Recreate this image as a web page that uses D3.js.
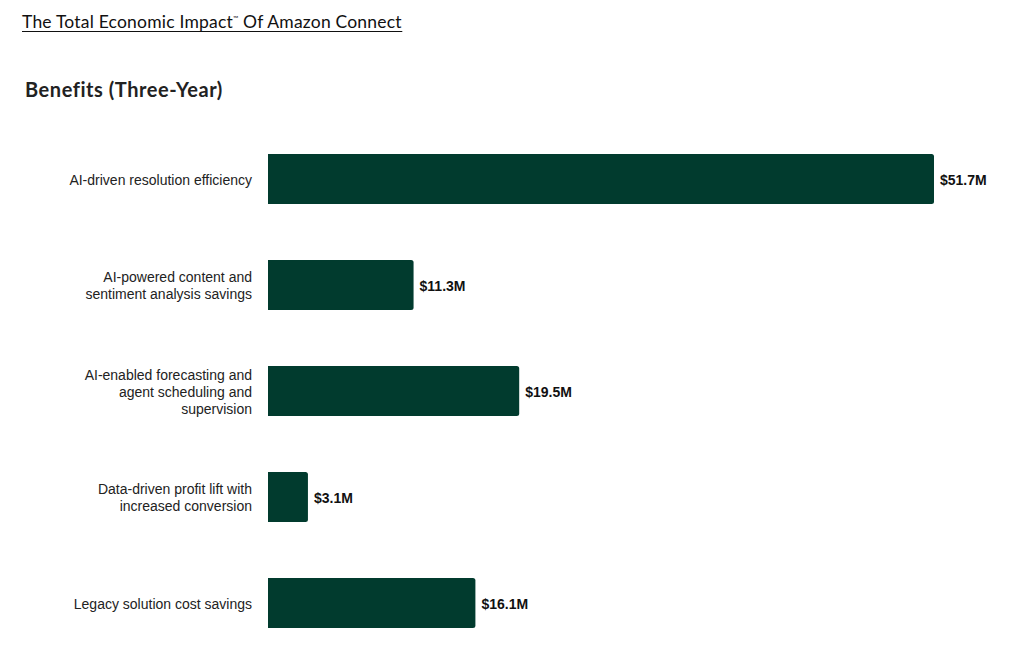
<!DOCTYPE html>
<html>
<head>
<meta charset="utf-8">
<script src="https://cdn.jsdelivr.net/npm/d3@7/dist/d3.min.js"></script>
<style>
  html, body { margin: 0; padding: 0; background: #fff; }
  svg { display: block; }
</style>
</head>
<body>
<div id="chart"></div>
<script>
// chart data
var categories = [
  ['AI-driven resolution efficiency'],
  ['AI-powered content and', 'sentiment analysis savings'],
  ['AI-enabled forecasting and', 'agent scheduling and', 'supervision'],
  ['Data-driven profit lift with', 'increased conversion'],
  ['Legacy solution cost savings']
];
var values = [51.7, 11.3, 19.5, 3.1, 16.1];
var valueLabels = ['$51.7M', '$11.3M', '$19.5M', '$3.1M', '$16.1M'];

var width = 1010, height = 665;
var barColor = '#013b2e';

var svg = d3.select('#chart')
  .append('svg')
  .attr('width', width)
  .attr('height', height);

// header
var title = svg.append('text')
  .attr('x', 22)
  .attr('y', 28)
  .attr('font-family', 'Lato, "Open Sans", sans-serif')
  .attr('font-size', 17.5)
  .attr('letter-spacing', 0.2)
  .attr('fill', '#111');
title.append('tspan').text('The Total Economic Impact');
title.append('tspan').attr('font-size', 7).attr('dy', -7).text('™');
title.append('tspan').attr('dy', 7).text(' Of Amazon Connect');

var tb = title.node().getBBox();
svg.append('line')
  .attr('x1', 22).attr('x2', 22 + tb.width)
  .attr('y1', 31.5).attr('y2', 31.5)
  .attr('stroke', '#111')
  .attr('stroke-width', 1.2);

svg.append('text')
  .attr('x', 25)
  .attr('y', 97)
  .attr('font-family', 'Lato, "Open Sans", sans-serif')
  .attr('font-weight', 'bold')
  .attr('font-size', 20)
  .attr('letter-spacing', 0.55)
  .attr('fill', '#222')
  .text('Benefits (Three-Year)');

// scales
var x = d3.scaleLinear()
  .domain([0, d3.max(values)])
  .range([268, 934]);

var y = d3.scaleBand()
  .domain(d3.range(values.length))
  .range([126, 656])
  .paddingInner(0.528)
  .paddingOuter(0.264);

/*
 * Bar with only the right corners rounded
 */
function barPath(x0, y0, w, h, r) {
  r = Math.min(r, w / 2, h / 2);
  return 'M' + x0 + ',' + y0 +
    'H' + (x0 + w - r) +
    'Q' + (x0 + w) + ',' + y0 + ' ' + (x0 + w) + ',' + (y0 + r) +
    'V' + (y0 + h - r) +
    'Q' + (x0 + w) + ',' + (y0 + h) + ' ' + (x0 + w - r) + ',' + (y0 + h) +
    'H' + x0 + 'Z';
}

var rows = svg.selectAll('g.row')
  .data(values)
  .enter()
  .append('g')
  .attr('class', 'row');

rows.append('path')
  .attr('d', (d, i) => barPath(x(0), y(i), x(d) - x(0), y.bandwidth(), 2.5))
  .attr('fill', barColor);

rows.append('text')
  .attr('x', d => x(d) + 6)
  .attr('y', (d, i) => y(i) + y.bandwidth() / 2 + 1.5)
  .attr('dy', '0.35em')
  .attr('font-family', '"Liberation Sans", Arial, sans-serif')
  .attr('font-weight', 'bold')
  .attr('font-size', 14)
  .attr('fill', '#111')
  .text((d, i) => valueLabels[i]);

// category labels
var lineHeight = 17;
rows.append('text')
  .attr('text-anchor', 'end')
  .attr('font-family', '"Liberation Sans", Arial, sans-serif')
  .attr('font-size', 14)
  .attr('fill', '#222')
  .each(function(d, i) {
    var lines = categories[i];
    var cy = y(i) + y.bandwidth() / 2 + 1;
    var top = cy - (lines.length - 1) * lineHeight / 2;
    d3.select(this).selectAll('tspan')
      .data(lines)
      .enter()
      .append('tspan')
      .attr('x', 252)
      .attr('y', (l, j) => top + j * lineHeight)
      .attr('dy', '0.35em')
      .text(l => l);
  });
</script>
</body>
</html>
